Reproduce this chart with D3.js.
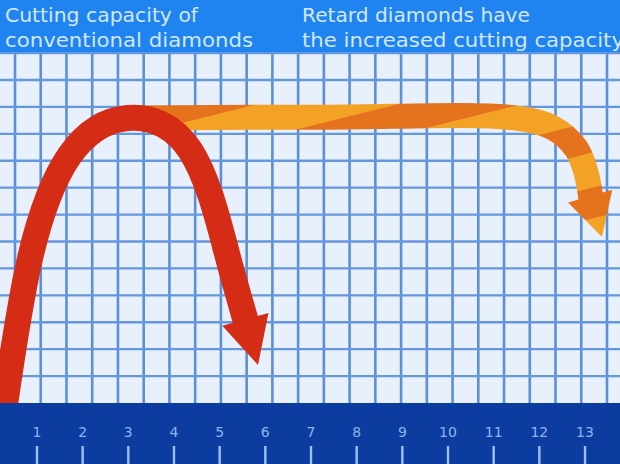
<!DOCTYPE html>
<html>
<head>
<meta charset="utf-8">
<script src="https://cdn.jsdelivr.net/npm/d3@7/dist/d3.min.js"></script>
<style>
  html, body { margin: 0; padding: 0; background: #fff; }
  svg { display: block; }
</style>
</head>
<body>
<svg id="chart" width="620" height="464"></svg>
<script>
// ---------- data ----------
const tickValues = [1, 2, 3, 4, 5, 6, 7, 8, 9, 10, 11, 12, 13, 14];
const tickLabels = ["1", "2", "3", "4", "5", "6", "7", "8", "9", "10", "11", "12", "13", "14"];
const headerLeft = ["Cutting capacity of", "conventional diamonds"];
const headerRight = ["Retard diamonds have", "the increased cutting capacity"];
// conventional diamonds: [x (tick units), capacity]
const conventionalX = [0.28, 0.85, 1.72, 2.99, 4.35, 5.14, 5.58];
const conventionalY = [-0.3, 5.39, 9.21, 10.59, 9.40, 5.68, 3.0];
const conventionalTip = [5.84, 1.41];
// retard diamonds
const retardX = [3.26, 7.42, 11.47, 12.30, 12.80, 13.02, 13.13];
const retardY = [10.59, 10.62, 10.59, 10.22, 9.47, 8.58, 7.58];
const retardTip = [13.37, 6.17];
const gridColumns = 24;
const gridRows = 13;

// ---------- layout ----------
const W = 620, H = 464;
const topBand = 52, bottomBand = 403;
const svg = d3.select("#chart");
const defs = svg.append("defs");

const x = d3.scaleLinear().domain([0, 14]).range([-8.7, 630.7]);
const y = d3.scaleLinear().domain([0, 12]).range([bottomBand, 80]);
const gx = d3.scaleLinear().domain([0, gridColumns - 1]).range([15, 607]);

// striped orange pattern
const pat = defs.append("pattern").attr("id", "stripes")
  .attr("patternUnits", "userSpaceOnUse").attr("width", 64).attr("height", 64)
  .attr("patternTransform", "translate(150,100) rotate(76)");
pat.append("rect").attr("width", 64).attr("height", 64).attr("fill", "#f3a226");
pat.append("rect").attr("width", 30).attr("height", 64).attr("fill", "#e5721c");

// background
svg.append("rect").attr("x", 0).attr("y", 0).attr("width", W).attr("height", H).attr("fill", "#e8f0fb");

// grid
const grid = svg.append("g");
grid.selectAll("line.v").data(d3.range(gridColumns)).join("line")
  .attr("x1", d => gx(d)).attr("x2", d => gx(d))
  .attr("y1", topBand).attr("y2", bottomBand)
  .attr("stroke", "#5a8fdb").attr("stroke-width", 2.6);
grid.selectAll("line.h").data(d3.range(1, gridRows + 1)).join("line")
  .attr("x1", 0).attr("x2", W)
  .attr("y1", d => y(d)).attr("y2", d => y(d))
  .attr("stroke", "#6597de").attr("stroke-width", 2.4);

// curve helpers
const line = d3.line().x(d => x(d[0])).y(d => y(d[1])).curve(d3.curveNatural);
const lineR = d3.line().x(d => x(d[0])).y(d => y(d[1])).curve(d3.curveCatmullRom.alpha(0.5));
function arrowHead(base, tip, width) {
  const bx = x(base[0]), by = y(base[1]), tx = x(tip[0]), ty = y(tip[1]);
  const dx = tx - bx, dy = ty - by, L = Math.hypot(dx, dy);
  const nx = -dy / L, ny = dx / L;
  const back = 3;
  const b2x = bx - dx / L * back, b2y = by - dy / L * back;
  return `M${b2x + nx * width / 2},${b2y + ny * width / 2}L${tx},${ty}L${b2x - nx * width / 2},${b2y - ny * width / 2}Z`;
}

// retard diamonds (orange, striped)
const retardPts = retardX.map((v, i) => [v, retardY[i]]);
svg.append("path").attr("d", lineR(retardPts))
  .attr("fill", "none").attr("stroke", "url(#stripes)").attr("stroke-width", 25).attr("stroke-linecap", "butt");
svg.append("path").attr("d", arrowHead(retardPts[retardPts.length - 1], retardTip, 46))
  .attr("fill", "url(#stripes)");

// conventional diamonds (red)
const convPts = conventionalX.map((v, i) => [v, conventionalY[i]]);
svg.append("path").attr("d", line(convPts))
  .attr("fill", "none").attr("stroke", "#d42c15").attr("stroke-width", 26).attr("stroke-linecap", "butt");
svg.append("path").attr("d", arrowHead(convPts[convPts.length - 1], conventionalTip, 48))
  .attr("fill", "#d42c15");

// top band
svg.append("rect").attr("x", 0).attr("y", 0).attr("width", W).attr("height", topBand).attr("fill", "#1f84ef");
const headFont = "'DejaVu Sans', sans-serif";
const leftLens = [193, 248];
const rightLens = [228, 322];
headerLeft.forEach((t, i) => {
  svg.append("text").attr("x", 5).attr("y", 22 + i * 25)
    .attr("font-family", headFont).attr("font-size", 19).attr("fill", "#d3e7ff")
    .attr("textLength", leftLens[i]).attr("lengthAdjust", "spacingAndGlyphs").text(t);
});
headerRight.forEach((t, i) => {
  svg.append("text").attr("x", 302).attr("y", 22 + i * 25)
    .attr("font-family", headFont).attr("font-size", 19).attr("fill", "#d3e7ff")
    .attr("textLength", rightLens[i]).attr("lengthAdjust", "spacingAndGlyphs").text(t);
});

// bottom band with axis
svg.append("rect").attr("x", 0).attr("y", bottomBand).attr("width", W).attr("height", H - bottomBand).attr("fill", "#0c3c9f");
const axis = svg.append("g");
axis.selectAll("text").data(tickValues).join("text")
  .attr("x", d => x(d)).attr("y", 437)
  .attr("text-anchor", "middle")
  .attr("font-family", "'DejaVu Sans', sans-serif").attr("font-size", 14)
  .attr("fill", "#8cb4ec")
  .text((d, i) => tickLabels[i]);
axis.selectAll("line").data(tickValues).join("line")
  .attr("x1", d => x(d)).attr("x2", d => x(d))
  .attr("y1", 446).attr("y2", H)
  .attr("stroke", "#9cc0f0").attr("stroke-width", 2.4);
</script>
</body>
</html>
